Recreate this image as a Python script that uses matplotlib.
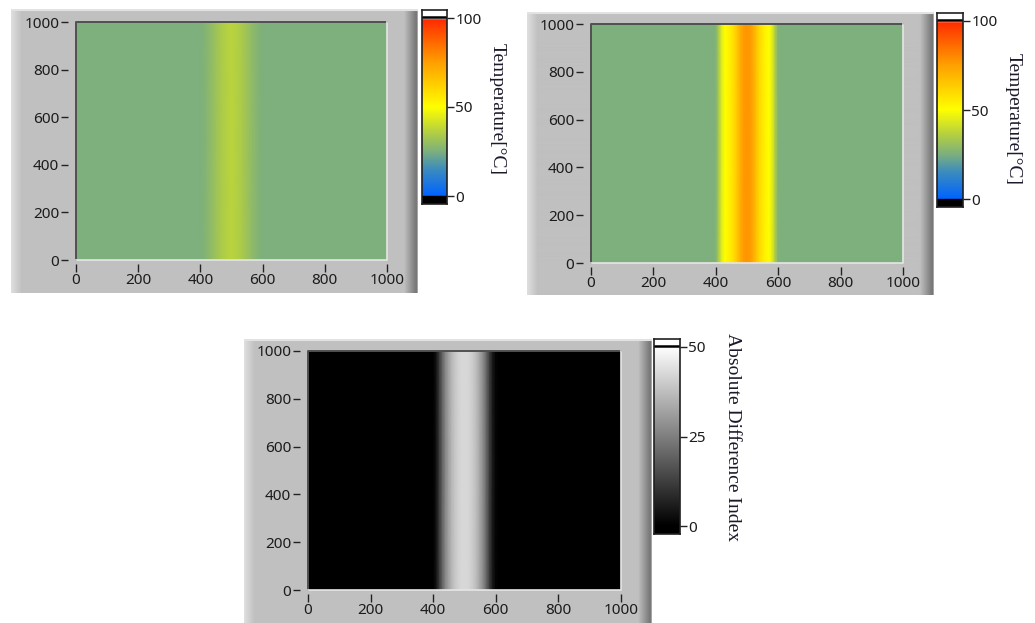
import numpy as np
import matplotlib.pyplot as plt
from matplotlib.colors import LinearSegmentedColormap

W, H = 1035, 623

# temperature profile across x (constant along y)
x_pos = [0, 390, 400, 410, 420, 430, 440, 450, 460, 470, 480, 490, 500,
         510, 520, 530, 540, 550, 560, 570, 580, 590, 600, 610, 1000]
temp_before = [25, 25, 25, 26, 27, 28.5, 30, 31.5, 33, 34.5, 35.5, 36.5, 37,
               36.5, 35.5, 34.5, 33, 31.5, 30, 28.5, 27, 26, 25, 25, 25]
temp_after = [25, 25, 26, 35, 45, 50, 53, 56, 60, 66, 72, 76, 77,
              76, 72, 66, 60, 56, 53, 50, 45, 35, 26, 25, 25]
abs_diff = [0, 0, 0, 4, 12, 20, 27, 32, 36, 39, 41, 42, 42,
            42, 41, 39, 36, 32, 27, 20, 12, 5, 1, 0, 0]

axis_ticks = [0, 200, 400, 600, 800, 1000]
temp_ticks = [0, 50, 100]
diff_ticks = [0, 25, 50]

temp_cmap = LinearSegmentedColormap.from_list('lv_temp', [
    (0.00, (0/255, 100/255, 255/255)),
    (0.15, (60/255, 140/255, 190/255)),
    (0.25, (125/255, 176/255, 125/255)),
    (0.35, (175/255, 205/255, 70/255)),
    (0.50, (255/255, 255/255, 0/255)),
    (0.75, (255/255, 160/255, 0/255)),
    (1.00, (255/255, 40/255, 0/255)),
])
gray_cmap = plt.get_cmap('gray')

tick_font = {'family': 'Noto Sans', 'size': 11, 'color': '#1c1c1c'}


def box(x0, y0, x1, y1):
    return [x0 / W, 1 - y1 / H, (x1 - x0) / W, (y1 - y0) / H]


def draw_frame(fig, fb):
    w = fb[2] - fb[0]
    g = np.full(w, 192.0)
    g[:10] = np.linspace(222, 196, 10)
    g[-14:] = np.linspace(190, 110, 14)
    g[-2:] = [120, 165]
    img = np.repeat(g[None, :, None], 3, axis=2) / 255
    fax = fig.add_axes(box(*fb))
    fax.imshow(img, aspect='auto', extent=[0, 1, 0, 1])
    fax.axhline(0.998, color='#e2e2e2', lw=1.5)
    fax.set_xlim(0, 1)
    fax.set_ylim(0, 1)
    fax.axis('off')


def draw_panel(fig, fb, pb, cb, lab_xy, values, cmap, vmax, cticks, label):
    draw_frame(fig, fb)

    ax = fig.add_axes(box(*pb))
    ax.pcolormesh(x_pos, [0, 1000], np.vstack([values, values]),
                  shading='gouraud', cmap=cmap, vmin=0, vmax=vmax)
    ax.set_xlim(0, 1000)
    ax.set_ylim(0, 1000)
    for s in ax.spines.values():
        s.set_visible(False)
    ax.spines['left'].set_position(('outward', 6))
    ax.spines['bottom'].set_position(('outward', 3))
    ax.set_xticks(axis_ticks)
    ax.set_yticks(axis_ticks)
    ax.set_xticklabels([str(t) for t in axis_ticks], fontdict=tick_font)
    ax.set_yticklabels([str(t) for t in axis_ticks], fontdict=tick_font)
    ax.tick_params(axis='y', length=5, width=1, color='#222222', pad=1)
    ax.tick_params(axis='x', length=6, width=1, color='#222222', pad=0)
    # plot area border
    ax.plot([0, 0, 1], [0, 1, 1], transform=ax.transAxes, color='#505050',
            lw=1.4, clip_on=False)
    ax.plot([0, 1, 1], [0, 0, 1], transform=ax.transAxes, color='#e6e6e6',
            lw=1.2, clip_on=False)

    cax = fig.add_axes(box(*cb))
    inner = (cb[3] - cb[1]) - 16
    u = vmax / inner
    grad = np.linspace(0, vmax, 256)[:, None]
    cax.imshow(grad, origin='lower', aspect='auto', cmap=cmap,
               extent=[0, 1, 0, vmax], vmin=0, vmax=vmax)
    cax.axhspan(vmax, vmax + 8 * u, color='white')
    cax.axhline(vmax + 0.6 * u, color='black', lw=1.8)
    cax.axhspan(-8 * u, 0, color='black')
    cax.set_xlim(0, 1)
    cax.set_ylim(-8 * u, vmax + 8 * u)
    cax.set_xticks([])
    for s in cax.spines.values():
        s.set_color('#202020')
        s.set_linewidth(1.2)
    cax.yaxis.tick_right()
    cax.set_yticks(cticks)
    cax.set_yticklabels([str(t) for t in cticks], fontdict=tick_font)
    cax.tick_params(axis='y', length=5, width=1, color='#222222', pad=1)

    fig.text(lab_xy[0] / W, 1 - lab_xy[1] / H, label, rotation=270,
             ha='center', va='center', family='Liberation Serif',
             fontsize=14, color='#1a1a2a')


fig = plt.figure(figsize=(W / 100, H / 100), dpi=100)
fig.patch.set_facecolor('white')

draw_panel(fig, (11, 9, 418, 293), (76, 22, 387, 260), (422, 10, 447, 204),
           (497, 109), temp_before, temp_cmap, 100, temp_ticks, 'Temperature[°C]')
draw_panel(fig, (527, 12, 934, 295), (591, 24, 903, 263), (937, 13, 963, 207),
           (1013, 119), temp_after, temp_cmap, 100, temp_ticks, 'Temperature[°C]')
draw_panel(fig, (244, 339, 652, 623), (308, 351, 621, 590), (654, 339, 680, 534),
           (732, 437), abs_diff, gray_cmap, 50, diff_ticks, 'Absolute Difference Index')

fig.savefig('out.png', dpi=100)
